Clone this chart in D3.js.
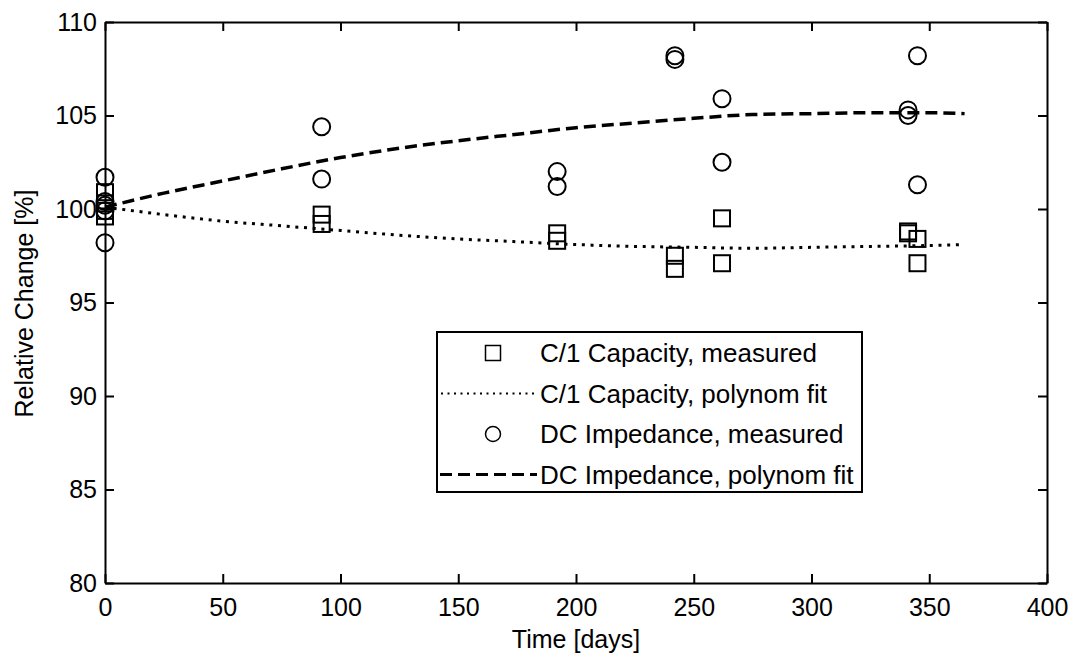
<!DOCTYPE html>
<html>
<head>
<meta charset="utf-8">
<script src="https://cdn.jsdelivr.net/npm/d3@7"></script>
<style>
  body { margin: 0; background: #fff; }
  svg { display: block; font-family: "Liberation Sans", Arial, sans-serif; }
  .axis path, .axis line { stroke: #000; stroke-width: 2; }
  .axis text { fill: #000; font-size: 25px; font-family: "Liberation Sans", Arial, sans-serif; }
</style>
</head>
<body>
<svg id="chart" width="1079" height="655"></svg>
<script>
// measured points: [days, relative change %]
const capMeasured = [
  [0, 100.9], [0, 100.3], [0, 99.9], [0, 99.6],
  [92, 99.7], [92, 99.2],
  [192, 98.7], [192, 98.3],
  [242, 97.5], [242, 96.8],
  [262, 99.5], [262, 97.1],
  [341, 98.8], [341, 98.7], [345, 98.4], [345, 97.1]
];
const impMeasured = [
  [0, 101.7], [0, 100.4], [0, 100.2], [0, 99.9], [0, 98.2],
  [92, 104.4], [92, 101.6],
  [192, 102.0], [192, 101.2],
  [242, 108.2], [242, 108.0],
  [262, 105.9], [262, 102.5],
  [341, 105.3], [341, 105.0], [345, 108.2], [345, 101.3]
];

// polynomial fit curves
const fitDays = [0, 25, 50, 75, 100, 125, 150, 175, 200, 225, 250, 275, 300, 325, 350, 365];
const capFit = [100.1, 99.7, 99.35, 99.1, 98.85, 98.6, 98.4, 98.25, 98.1, 98.0, 97.95, 97.9, 97.95, 98.0, 98.05, 98.1];
const impFit = [100.1, 100.85, 101.5, 102.15, 102.75, 103.25, 103.65, 104.0, 104.35, 104.6, 104.85, 105.05, 105.1, 105.15, 105.15, 105.1];

const xTicks = [0, 50, 100, 150, 200, 250, 300, 350, 400];
const yTicks = [80, 85, 90, 95, 100, 105, 110];

const legendItems = [
  {label: 'C/1 Capacity, measured', kind: 'square'},
  {label: 'C/1 Capacity, polynom fit', kind: 'dotted'},
  {label: 'DC Impedance, measured', kind: 'circle'},
  {label: 'DC Impedance, polynom fit', kind: 'dashed'}
];

const svg = d3.select('#chart');
const margin = {left: 105, top: 22, right: 32, bottom: 72};
const width = 1079 - margin.left - margin.right;
const height = 655 - margin.top - margin.bottom;

const g = svg.append('g')
  .attr('transform', `translate(${margin.left},${margin.top})`);

const x = d3.scaleLinear().domain([0, 400]).range([0, width]);
const y = d3.scaleLinear().domain([80, 110]).range([height, 0]);

// axes, ticks pointing inward on all four sides
g.append('g').attr('class', 'axis')
  .attr('transform', `translate(0,${height})`)
  .call(d3.axisBottom(x).tickValues(xTicks).tickSizeInner(-9).tickSizeOuter(0).tickPadding(15));
g.append('g').attr('class', 'axis')
  .call(d3.axisLeft(y).tickValues(yTicks).tickSizeInner(-9).tickSizeOuter(0).tickPadding(8));
g.append('g').attr('class', 'axis')
  .call(d3.axisTop(x).tickValues(xTicks).tickSizeInner(-9).tickSizeOuter(0).tickFormat(''));
g.append('g').attr('class', 'axis')
  .attr('transform', `translate(${width},0)`)
  .call(d3.axisRight(y).tickValues(yTicks).tickSizeInner(-9).tickSizeOuter(0).tickFormat(''));

// axis titles
svg.append('text')
  .attr('x', margin.left + width / 2)
  .attr('y', 648)
  .attr('text-anchor', 'middle')
  .style('font-size', '25px')
  .text('Time [days]');
svg.append('text')
  .attr('transform', `translate(33,${margin.top + height / 2 + 1}) rotate(-90)`)
  .attr('text-anchor', 'middle')
  .style('font-size', '25px')
  .text('Relative Change [%]');

// fit lines
const line = d3.line()
  .x(d => x(d[0]))
  .y(d => y(d[1]))
  .curve(d3.curveMonotoneX);

g.append('path')
  .datum(d3.zip(fitDays, capFit))
  .attr('d', line)
  .attr('fill', 'none')
  .attr('stroke', '#000')
  .attr('stroke-width', 3)
  .attr('stroke-dasharray', '3,5.7');

g.append('path')
  .datum(d3.zip(fitDays, impFit))
  .attr('d', line)
  .attr('fill', 'none')
  .attr('stroke', '#000')
  .attr('stroke-width', 3.5)
  .attr('stroke-dasharray', '12,6');

// markers
const sq = 16;
g.selectAll('.sq')
  .data(capMeasured)
  .enter().append('rect')
    .attr('class', 'sq')
    .attr('x', d => x(d[0]) - sq / 2)
    .attr('y', d => y(d[1]) - sq / 2)
    .attr('width', sq)
    .attr('height', sq)
    .attr('fill', 'none')
    .attr('stroke', '#000')
    .attr('stroke-width', 2);

g.selectAll('.circ')
  .data(impMeasured)
  .enter().append('circle')
    .attr('class', 'circ')
    .attr('cx', d => x(d[0]))
    .attr('cy', d => y(d[1]))
    .attr('r', 8.5)
    .attr('fill', 'none')
    .attr('stroke', '#000')
    .attr('stroke-width', 2);

// legend
const lg = svg.append('g').attr('transform', 'translate(437,332)');
lg.append('rect')
  .attr('width', 425)
  .attr('height', 160)
  .attr('fill', '#fff')
  .attr('stroke', '#000')
  .attr('stroke-width', 2);

const rowY = i => 21 + i * 40.5;
const rows = lg.selectAll('.row')
  .data(legendItems)
  .enter().append('g')
    .attr('class', 'row')
    .attr('transform', (d, i) => `translate(0,${rowY(i)})`);

rows.append('text')
  .attr('x', 103)
  .attr('y', 9)
  .style('font-size', '26px')
  .text(d => d.label);

rows.filter(d => d.kind === 'square').append('rect')
  .attr('x', 56 - 7.5).attr('y', -7.5)
  .attr('width', 15).attr('height', 15)
  .attr('fill', 'none').attr('stroke', '#000').attr('stroke-width', 1.5);

rows.filter(d => d.kind === 'circle').append('circle')
  .attr('cx', 56).attr('cy', 0).attr('r', 7.5)
  .attr('fill', 'none').attr('stroke', '#000').attr('stroke-width', 1.5);

rows.filter(d => d.kind === 'dotted').append('line')
  .attr('x1', 4).attr('x2', 100).attr('y1', 0).attr('y2', 0)
  .attr('stroke', '#000').attr('stroke-width', 2)
  .attr('stroke-dasharray', '2,4.5');

rows.filter(d => d.kind === 'dashed').append('line')
  .attr('x1', 3).attr('x2', 100).attr('y1', 0).attr('y2', 0)
  .attr('stroke', '#000').attr('stroke-width', 3)
  .attr('stroke-dasharray', '12,6');
</script>
</body>
</html>
